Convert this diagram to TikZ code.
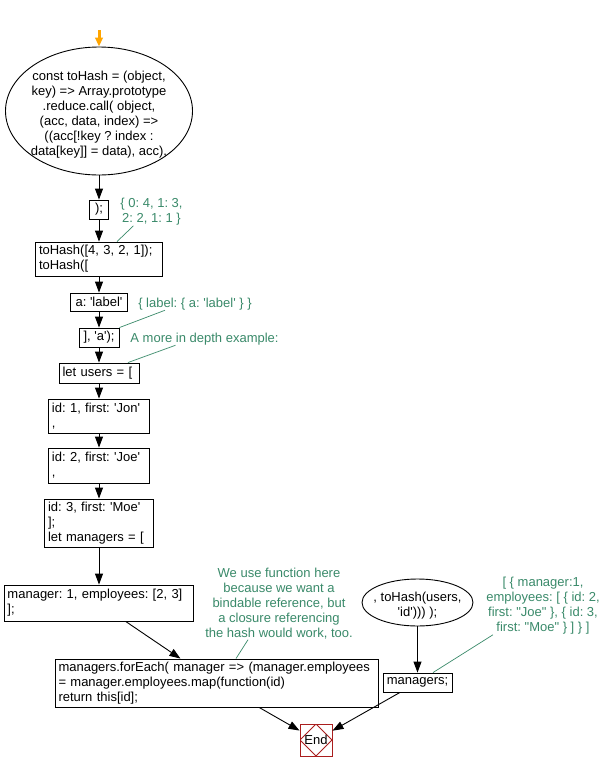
\documentclass[tikz,border=0pt]{standalone}
\usepackage{fontspec}
\setmainfont{Liberation Sans}
\newfontfamily\lib{Liberation Sans}
\usetikzlibrary{arrows.meta,shapes.geometric}
\definecolor{cmt}{RGB}{58,138,106}
\definecolor{endred}{RGB}{170,30,30}
\definecolor{startor}{RGB}{255,165,0}
\frenchspacing
\newcommand{\zt}[1]{\smash{\makebox[0pt]{\raisebox{-6.5pt}{\begin{tabular}{@{}c@{}}#1\end{tabular}}}}}
\begin{document}
\begin{tikzpicture}[x=1pt,y=-1pt,
  every node/.style={font=\lib\fontsize{13}{15}\selectfont\frenchspacing},
  box/.style={draw, line width=0.9pt, rectangle, inner xsep=3.5pt, inner ysep=0pt, align=left},
  cbox/.style={draw, line width=0.9pt, rectangle, inner sep=0pt, align=center},
  ell/.style={draw, line width=0.9pt, ellipse, inner sep=0pt},
  cmtn/.style={text=cmt, align=center, inner sep=0pt},
  flow/.style={line width=0.9pt, -{Triangle[length=11pt,width=8pt]}},
  startflow/.style={line width=3pt, startor, -{Triangle[length=9pt,width=7.5pt]}},
  cline/.style={draw=cmt, line width=0.7pt}]
\useasboundingbox[fill=white] (0,0) rectangle (606,772);

\coordinate (s0) at (99,30);
\node[ell, minimum width=187pt, minimum height=128pt] (start) at (99,111)
  {\zt{const toHash = (object,\\key) => Array.prototype\\.reduce.call( object,\\(acc, data, index) =>\\((acc[!key ? index :\\data[key]] = data), acc),}};

\node[cbox, minimum width=19pt, minimum height=19pt] (b1) at (99,209.5) {);};
\node[box, text width=120pt, minimum height=34pt] (b2) at (99,259) {toHash([4, 3, 2, 1]);\\toHash([};
\node[cbox, minimum width=57pt, minimum height=18pt] (b3) at (99,302) {a: 'label'};
\node[cbox, minimum width=40pt, minimum height=19pt] (b4) at (99,337.5) {], 'a');};
\node[box, text width=73pt, minimum height=20pt] (b5) at (99,373) {let users = [};
\node[box, text width=94pt, minimum height=34pt] (b6) at (99,416) {id: 1, first: 'Jon'\\,};
\node[box, text width=94pt, minimum height=35pt] (b7) at (99,465.5) {id: 2, first: 'Joe'\\,};
\node[box, text width=102pt, minimum height=48pt] (b8) at (99,523) {id: 3, first: 'Moe'\\];\\let managers = [};
\node[box, text width=182pt, minimum height=36pt] (b9) at (98.5,603) {manager: 1, employees: [2, 3]\\];};
\node[box, text width=316pt, minimum height=48pt] (b10) at (216.5,683) {managers.forEach( manager => (manager.employees\\= manager.employees.map(function(id)\\return this[id];};
\node[ell, minimum width=111pt, minimum height=47pt] (e2) at (417.5,602.5) {\zt{, toHash(users,\\'id'))) );}};
\node[cbox, minimum width=69pt, minimum height=19pt] (b11) at (417.5,682.5) {managers;};
\node[draw=endred, line width=1pt, minimum width=32pt, minimum height=32pt, inner sep=0pt,
  path picture={\draw[endred, line width=0.8pt] (path picture bounding box.north) -- (path picture bounding box.east) -- (path picture bounding box.south) -- (path picture bounding box.west) -- cycle;}] (end) at (316,740) {End};

\node[cmtn] (c1) at (151.5,212) {\{ 0: 4, 1: 3,\\2: 2, 1: 1 \}};
\node[cmtn] (c2) at (195,304) {\{ label: \{ a: 'label' \} \}};
\node[cmtn] (c3) at (204.5,339) {A more in depth example:};
\node[cmtn] (c4) at (279,604) {We use function here\\because we want a\\bindable reference, but\\a closure referencing\\the hash would work, too.};
\node[cmtn] (c5) at (543,606) {[ \{ manager:1,\\employees: [ \{ id: 2,\\first: "Joe" \}, \{ id: 3,\\first: "Moe" \} ] \} ]};

\draw[startflow] (s0) -- (start);
\draw[flow] (start) -- (b1);
\draw[flow] (b1) -- (b2);
\draw[flow] (b2) -- (b3);
\draw[flow] (b3) -- (b4);
\draw[flow] (b4) -- (b5);
\draw[flow] (b5) -- (b6);
\draw[flow] (b6) -- (b7);
\draw[flow] (b7) -- (b8);
\draw[flow] (b8) -- (b8 |- b9.north);
\draw[flow] (b9) -- (b10);
\draw[flow] (b10) -- (end);
\draw[flow] (e2) -- (b11);
\draw[flow] (b11) -- (end);

\draw[cline] ([xshift=18pt]b2.north) -- ([xshift=-18pt]c1.south);
\draw[cline] (b4.north east) -- ([xshift=-30pt]c2.south);
\draw[cline] ([xshift=29pt]b5.north) -- ([xshift=-29pt]c3.south);
\draw[cline] ([xshift=19.5pt]b10.north) -- ([xshift=-31pt]c4.south);
\draw[cline] ([xshift=15.5pt]b11.north) -- ([xshift=-50pt]c5.south);
\end{tikzpicture}
\end{document}
